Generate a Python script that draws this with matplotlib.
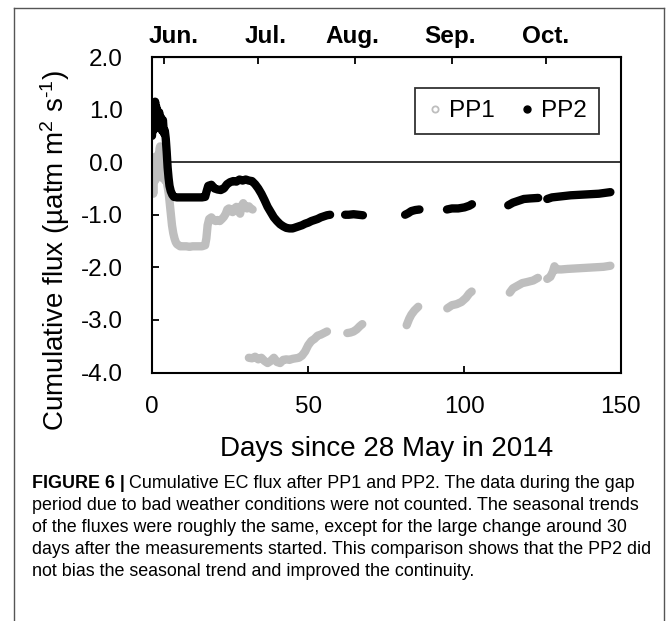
import numpy as np
import matplotlib.pyplot as plt
from matplotlib.lines import Line2D

plt.rcParams['font.family'] = ['Liberation Sans', 'DejaVu Sans']
plt.rcParams['mathtext.fontset'] = 'custom'
plt.rcParams['mathtext.rm'] = 'Liberation Sans'
plt.rcParams['mathtext.it'] = 'Liberation Sans:italic'
plt.rcParams['mathtext.bf'] = 'Liberation Sans:bold'

nan = np.nan

# cumulative flux after PP1 (nan = data gap, not counted)
pp1_days = [0.0, 0.2, 0.4, 0.6, 0.8, 1.0, 1.2, 1.4, 1.6, 1.8,
            2.0, 2.2, 2.4, 2.6, 2.8, 3.0, 3.3, 3.6, 3.9, 4.2,
            4.5, 4.8, 5.1, 5.4, 5.7, 6.0, 6.4, 6.8, 7.2, 7.6,
            8.0, 8.5, 9.0, 10.0, 11.0, 12.0, 13.0, 14.0, 15.0, 16.0,
            17.0, 17.4, 17.8, 18.3, 19.0, 19.7, 20.4, 21.0, 21.7, 22.4,
            23.0, 23.6, 24.1, 24.6, 25.2, 25.8, 26.4, 27.0, 27.6, 28.2,
            28.7, 29.2, 29.8, 30.4, 31.0, 31.6, 32.2, nan,
            31.0, 32.0, 33.0, 34.0, 35.0, 36.0, 37.0, 38.0, 39.0, 40.0,
            41.0, 42.0, 43.0, 44.0, 45.0, 46.0, 47.0, 48.0, 49.0, 50.0,
            51.0, 52.0, 53.0, 54.0, 55.0, 56.0, nan,
            62.5, 63.5, 64.5, 65.5, 66.5, 67.3, nan,
            81.5, 82.3, 83.0, 84.0, 85.2, nan,
            94.5, 96.0, 97.5, 99.0, 100.5, 101.5, 102.3, nan,
            114.5, 115.5, 117.0, 118.5, 120.0, 122.0, 123.5, nan,
            126.5, 127.5, 128.3, 128.8, 129.5, 131.0, 133.0, 136.0, 139.0, 142.0,
            144.5, 146.7]
pp1_flux = [0.10, -0.25, -0.60, -0.20, 0.05, -0.35, -0.10, 0.05, -0.30, -0.15,
            0.15, -0.05, 0.25, 0.30, 0.05, -0.20, -0.30, -0.10, -0.20, -0.35,
            -0.25, -0.40, -0.50, -0.62, -0.80, -1.00, -1.20, -1.35, -1.45, -1.52,
            -1.56, -1.58, -1.60, -1.60, -1.60, -1.61, -1.60, -1.60, -1.60, -1.60,
            -1.58, -1.45, -1.20, -1.08, -1.05, -1.10, -1.12, -1.10, -1.12, -1.08,
            -1.04, -0.98, -0.90, -0.88, -0.93, -0.95, -0.88, -0.85, -0.92, -0.98,
            -0.83, -0.78, -0.85, -0.88, -0.84, -0.88, -0.90, nan,
            -3.72, -3.73, -3.70, -3.75, -3.72, -3.78, -3.82, -3.78, -3.72, -3.80,
            -3.82, -3.76, -3.75, -3.76, -3.74, -3.73, -3.72, -3.68, -3.60, -3.48,
            -3.40, -3.36, -3.30, -3.28, -3.25, -3.22, nan,
            -3.25, -3.24, -3.22, -3.18, -3.12, -3.08, nan,
            -3.10, -2.98, -2.90, -2.82, -2.75, nan,
            -2.78, -2.72, -2.70, -2.66, -2.58, -2.50, -2.46, nan,
            -2.48, -2.40, -2.35, -2.30, -2.28, -2.25, -2.20, nan,
            -2.22, -2.18, -2.08, -1.98, -2.04, -2.04, -2.03, -2.02, -2.01, -2.00,
            -1.99, -1.97]

# cumulative flux after PP2
pp2_days = [0.0, 0.2, 0.4, 0.6, 0.8, 1.0, 1.2, 1.4, 1.6, 1.8,
            2.0, 2.3, 2.6, 2.9, 3.2, 3.5, 3.8, 4.1, 4.4, 4.7,
            5.0, 5.3, 5.6, 6.0, 6.5, 7.0, 8.0, 9.0, 10.0, 11.0,
            12.0, 13.0, 14.0, 15.0, 16.0, 17.0, 17.5, 18.0, 19.0, 20.0,
            21.0, 22.0, 23.0, 24.0, 25.0, 26.0, 27.0, 28.0, 29.0, 30.0,
            31.0, 32.0, 33.0, 34.0, 35.0, 36.0, 37.0, 38.0, 39.0, 40.0,
            41.0, 42.0, 43.0, 44.0, 45.0, 46.0, 47.0, 48.0, 49.0, 50.0,
            51.0, 52.0, 53.0, 54.0, 55.0, 56.0, 57.0, nan,
            61.8, 63.0, 64.5, 66.0, 67.5, nan,
            81.0, 82.0, 83.0, 84.3, 85.6, nan,
            94.4, 96.0, 98.0, 100.0, 101.5, 102.4, nan,
            114.0, 115.5, 117.0, 119.0, 121.0, 123.6, nan,
            126.5, 128.0, 131.0, 134.0, 137.0, 140.0, 143.0, 146.7]
pp2_flux = [0.50, 0.85, 0.60, 0.95, 0.75, 1.15, 0.85, 1.05, 0.65, 0.90,
            0.70, 0.95, 0.65, 0.85, 0.60, 0.80, 0.55, 0.60, 0.45, 0.20,
            -0.10, -0.30, -0.45, -0.55, -0.62, -0.66, -0.67, -0.67, -0.67, -0.67,
            -0.67, -0.67, -0.67, -0.67, -0.67, -0.66, -0.55, -0.45, -0.43, -0.50,
            -0.52, -0.53, -0.50, -0.42, -0.38, -0.36, -0.37, -0.33, -0.35, -0.33,
            -0.35, -0.36, -0.42, -0.50, -0.60, -0.72, -0.85, -0.95, -1.05, -1.12,
            -1.18, -1.22, -1.25, -1.26, -1.26, -1.24, -1.22, -1.20, -1.17, -1.15,
            -1.12, -1.10, -1.08, -1.05, -1.03, -1.01, -1.00, nan,
            -1.00, -1.00, -0.99, -1.00, -1.01, nan,
            -1.00, -0.97, -0.93, -0.91, -0.90, nan,
            -0.90, -0.88, -0.88, -0.86, -0.83, -0.80, nan,
            -0.82, -0.77, -0.74, -0.70, -0.69, -0.68, nan,
            -0.70, -0.67, -0.65, -0.63, -0.62, -0.61, -0.60, -0.57]

assert len(pp1_days) == len(pp1_flux) and len(pp2_days) == len(pp2_flux)

month_days = [4, 34, 65, 96, 126]        # first day of each month
month_names = ['Jun.', 'Jul.', 'Aug.', 'Sep.', 'Oct.']
month_label_days = [7.0, 36.5, 64.0, 95.5, 125.8]

caption_head = 'FIGURE 6 |'
caption_lines = [
    'Cumulative EC flux after PP1 and PP2. The data during the gap',
    'period due to bad weather conditions were not counted. The seasonal trends',
    'of the fluxes were roughly the same, except for the large change around 30',
    'days after the measurements started. This comparison shows that the PP2 did',
    'not bias the seasonal trend and improved the continuity.',
]

W, H = 669, 621
fig = plt.figure(figsize=(W / 100, H / 100), dpi=100)
ax = fig.add_axes([152 / W, 1 - 372.5 / H, 468.7 / W, 315.5 / H])

gray = '#bebebe'
ax.axhline(0, color='black', lw=1.1, zorder=1)
ax.plot(pp1_days, pp1_flux, color=gray, lw=6, solid_capstyle='round',
        solid_joinstyle='round', zorder=2)
ax.plot(pp2_days, pp2_flux, color='black', lw=6, solid_capstyle='round',
        solid_joinstyle='round', zorder=3)

ax.set_xlim(0, 150)
ax.set_ylim(-4, 2)
ax.set_xticks([0, 50, 100, 150])
ax.set_yticks(np.arange(-4, 2.1, 1))
ax.yaxis.set_major_formatter(plt.FormatStrFormatter('%.1f'))
ax.tick_params(axis='both', direction='in', length=5, width=1.3, labelsize=17.5)
ax.tick_params(axis='x', pad=17)
ax.tick_params(axis='y', pad=21)
for s in ax.spines.values():
    s.set_linewidth(1.5)

# month ticks along the top
top = ax.secondary_xaxis('top')
top.set_xticks(month_days)
top.set_xticklabels([])
top.tick_params(direction='in', length=5, width=1.3)
for d, name in zip(month_label_days, month_names):
    ax.text(d, 1.0 + 20.5 / 315.5, name, transform=ax.get_xaxis_transform(),
            ha='center', va='center', fontsize=17.5, fontweight='bold')

ax.set_xlabel('Days since 28 May in 2014', fontsize=20, labelpad=13)
fig.text(55 / W, 1 - 250 / H, r'Cumulative flux (µatm m$^{2}$ s$^{\text{-1}}$)',
         rotation=90, ha='center', va='center', fontsize=20)

handles = [Line2D([], [], ls='none', marker='o', ms=4.5, mfc='white', mec=gray, mew=1.3),
           Line2D([], [], ls='none', marker='o', ms=5, color='black')]
leg = ax.legend(handles, ['PP1', 'PP2'], ncol=2, loc='upper right',
                bbox_to_anchor=((599 - 152) / 468.7, (372.5 - 88) / 315.5),
                fontsize=17.5, frameon=True, fancybox=False, handlelength=0.6,
                handletextpad=0.3, columnspacing=1.0, borderpad=0.5,
                borderaxespad=0)
leg.get_frame().set_edgecolor('black')
leg.get_frame().set_linewidth(1.3)

# outer frame
for xs, ys in [([14, 14], [8, H]), ([14, 664], [8, 8]), ([664, 664], [8, H])]:
    fig.add_artist(Line2D([x / W for x in xs], [1 - y / H for y in ys],
                          transform=fig.transFigure, color='#555555', lw=1))

# caption
cap_size = 12.9
cap_y = [484, 505, 527, 549, 571]
head = fig.text(32 / W, 1 - cap_y[0] / H, caption_head, fontsize=cap_size,
                fontweight='bold', ha='left', va='center')
fig.canvas.draw()
ax.annotate(caption_lines[0], xy=(1, 0), xycoords=head, xytext=(3, 0),
            textcoords='offset points', ha='left', va='bottom', fontsize=cap_size)
for y, line in zip(cap_y[1:], caption_lines[1:]):
    fig.text(32 / W, 1 - y / H, line, fontsize=cap_size, ha='left', va='center')

fig.savefig('out.png', dpi=100)
